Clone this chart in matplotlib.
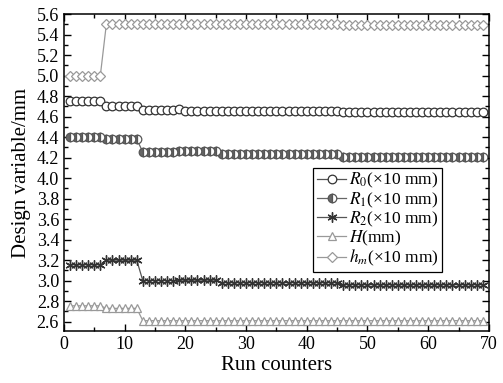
import numpy as np
import matplotlib
matplotlib.use("Agg")
import matplotlib.pyplot as plt
from matplotlib.ticker import MultipleLocator

plt.rcParams['font.family'] = ['Liberation Serif', 'DejaVu Serif']
plt.rcParams['mathtext.fontset'] = 'stix'

# === DATA ===
run = np.arange(1, 70)

# value per run segment: (first run, last run, value)
r0_steps = [(1, 6, 4.75), (7, 12, 4.70), (13, 18, 4.665), (19, 19, 4.675),
            (20, 45, 4.66), (46, 69, 4.645)]
r1_steps = [(1, 6, 4.40), (7, 12, 4.38), (13, 18, 4.255), (19, 25, 4.265),
            (26, 45, 4.235), (46, 69, 4.21)]
r2_steps = [(1, 6, 3.155), (7, 12, 3.20), (13, 18, 3.00), (19, 25, 3.005),
            (26, 45, 2.98), (46, 69, 2.96)]
h_steps = [(1, 6, 2.755), (7, 12, 2.73), (13, 69, 2.61)]
hm_steps = [(1, 6, 5.00), (7, 45, 5.505), (46, 69, 5.495)]


def expand(steps):
    vals = []
    for a, b, v in steps:
        vals += [v] * (b - a + 1)
    return np.array(vals)


R0 = expand(r0_steps)
R1 = expand(r1_steps)
R2 = expand(r2_steps)
H = expand(h_steps)
HM = expand(hm_steps)

labels = [r'$R_0$(×10 mm)', r'$R_1$(×10 mm)', r'$R_2$(×10 mm)',
          r'$H$(mm)', r'$h_m$(×10 mm)']

# === PLOT ===
fig = plt.figure(figsize=(5.03, 3.83), dpi=100)
ax = fig.add_axes([0.127, 0.136, 0.845, 0.827])

ms = 6.2
ax.plot(run, R0, '-o', color='#555555', lw=0.9, ms=ms, mfc='white',
        mec='#333333', mew=0.9, label=labels[0])
ax.plot(run, R1, '-o', color='#666666', lw=0.9, ms=ms, fillstyle='left',
        mfc='#666666', mfcalt='white', mec='#555555', mew=0.9, label=labels[1])
ax.plot(run, R2, '-', color='#555555', lw=0.9, ms=ms + 1, mec='#333333',
        mew=1.0, marker=(6, 2, 0), label=labels[2])
ax.plot(run, H, '-^', color='#999999', lw=0.9, ms=ms, mfc='white',
        mec='#999999', mew=0.9, label=labels[3])
ax.plot(run, HM, '-D', color='#999999', lw=0.9, ms=ms * 0.85, mfc='white',
        mec='#999999', mew=0.9, label=labels[4])

ax.set_xlim(0, 70)
ax.set_ylim(2.51, 5.6)
ax.xaxis.set_major_locator(MultipleLocator(10))
ax.xaxis.set_minor_locator(MultipleLocator(5))
ax.set_yticks(np.round(np.arange(2.6, 5.61, 0.2), 1))
ax.yaxis.set_minor_locator(MultipleLocator(0.1))
ax.tick_params(which='both', direction='in', top=True, right=True,
               labelsize=13, width=1.0)
ax.tick_params(which='major', length=5)
ax.tick_params(which='minor', length=3)
for s in ax.spines.values():
    s.set_linewidth(1.1)

ax.set_xlabel('Run counters', fontsize=15, labelpad=2)
ax.set_ylabel('Design variable/mm', fontsize=15, labelpad=4)

leg = ax.legend(loc='upper left', bbox_to_anchor=(0.587, 0.515),
                borderaxespad=0, fontsize=12.5, handlelength=1.7,
                handletextpad=0.15, labelspacing=0.0, borderpad=0.2,
                fancybox=False, edgecolor='black', framealpha=1)
leg.get_frame().set_linewidth(0.9)

fig.savefig('out.png', dpi=100)
